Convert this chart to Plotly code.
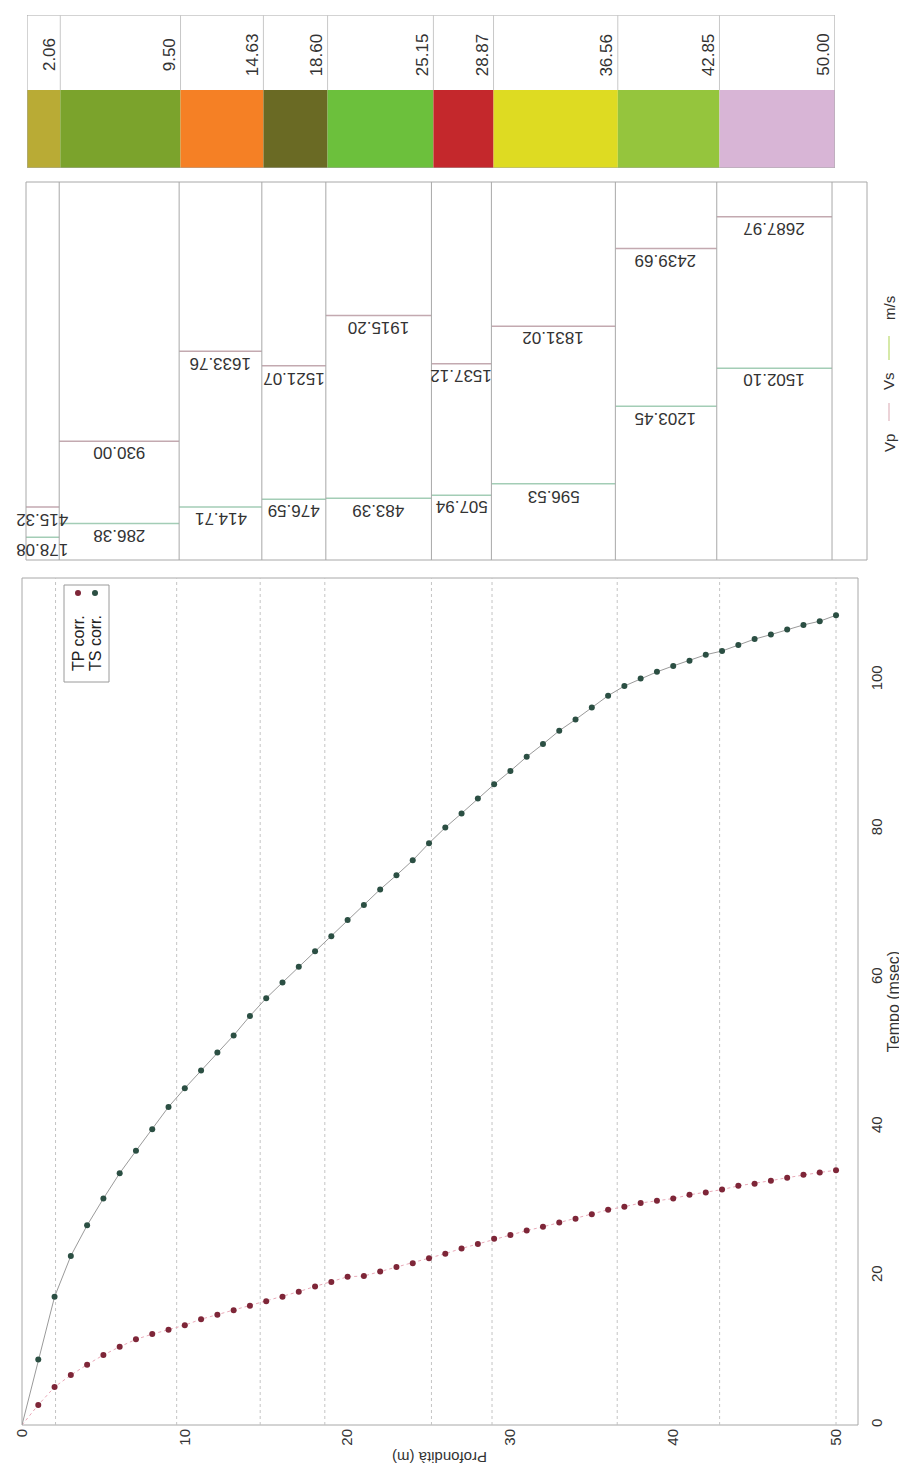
import plotly.graph_objects as go

# page is 907x1472; the html body adds an 8px margin, so the figure is 899x1464 at (8, 8)
PAGE_OFF = 8
W, H = 899, 1464

# ---------------- data ----------------
layer_bottom = [2.06, 9.50, 14.63, 18.60, 25.15, 28.87, 36.56, 42.85, 50.00]
layer_labels = ["2.06", "9.50", "14.63", "18.60", "25.15", "28.87", "36.56", "42.85", "50.00"]
layer_colors = ["#b9ab35", "#7ba32c", "#f58025", "#6a6a24", "#6cc03c",
                "#c4282c", "#dedb22", "#95c53d", "#d8b5d6"]
vp = [415.32, 930.00, 1633.76, 1521.07, 1915.20, 1537.12, 1831.02, 2439.69, 2687.97]
vs = [178.08, 286.38, 414.71, 476.59, 483.39, 507.94, 596.53, 1203.45, 1502.10]

depth = list(range(1, 51))
tp = [2.7, 5.1, 6.7, 8.1, 9.4, 10.5, 11.5, 12.2, 12.8, 13.4,
      14.2, 14.8, 15.4, 16.0, 16.6, 17.2, 17.9, 18.6, 19.2, 19.9,
      20.0, 20.6, 21.2, 21.7, 22.4, 23.0, 23.7, 24.3, 25.0, 25.5,
      26.1, 26.6, 27.2, 27.7, 28.3, 28.9, 29.3, 29.8, 30.1, 30.4,
      30.9, 31.2, 31.6, 32.1, 32.4, 32.8, 33.2, 33.6, 33.9, 34.2]
ts = [8.8, 17.2, 22.7, 26.8, 30.4, 33.8, 36.8, 39.7, 42.7, 45.2,
      47.6, 50.0, 52.3, 54.9, 57.3, 59.4, 61.5, 63.6, 65.6, 67.8,
      69.8, 71.9, 73.8, 75.8, 78.1, 80.2, 82.1, 84.1, 86.0, 87.8,
      89.7, 91.4, 93.2, 94.7, 96.3, 97.9, 99.2, 100.2, 101.1, 101.9,
      102.6, 103.4, 103.9, 104.7, 105.5, 106.1, 106.8, 107.4, 107.9, 108.7]

depth_ticks = [0, 10, 20, 30, 40, 50]
time_ticks = [0, 20, 40, 60, 80, 100]

# ---------------- style ----------------
FONT = "Liberation Sans, Arial, sans-serif"
TXT = "#333333"
FRAME = "#a8a8a8"
GRID = "#c4c4c4"
VP_COL = "#c3a9b0"
VS_COL = "#a3cdb6"
TP_COL = "#7e2638"
TS_COL = "#2b4f43"


def px(xp):
    return (xp - PAGE_OFF) / W


def py(yp):
    return 1 - (yp - PAGE_OFF) / H


fig = go.Figure()

# ---------- time-depth scatter (bottom panel) ----------
fig.add_trace(go.Scatter(x=[0] + depth, y=[0] + tp, mode="lines",
                         line=dict(color="#e9a9b8", width=1, dash="dot"),
                         xaxis="x", yaxis="y", hoverinfo="skip"))
fig.add_trace(go.Scatter(x=[0] + depth, y=[0] + ts, mode="lines",
                         line=dict(color="#9a9a9a", width=1),
                         xaxis="x", yaxis="y", hoverinfo="skip"))
fig.add_trace(go.Scatter(x=depth, y=tp, mode="markers", name="TP corr.",
                         marker=dict(color=TP_COL, size=6), xaxis="x", yaxis="y"))
fig.add_trace(go.Scatter(x=depth, y=ts, mode="markers", name="TS corr.",
                         marker=dict(color=TS_COL, size=6), xaxis="x", yaxis="y"))

# ---------- velocity panel (middle) ----------
tops = [0] + layer_bottom[:-1]
vpx, vpy, vsx, vsy = [], [], [], []
for t, b, p, s in zip(tops, layer_bottom, vp, vs):
    vpx += [t, b, None]
    vpy += [p, p, None]
    vsx += [t, b, None]
    vsy += [s, s, None]
fig.add_trace(go.Scatter(x=vpx, y=vpy, mode="lines", line=dict(color=VP_COL, width=1.5),
                         xaxis="x2", yaxis="y2", hoverinfo="skip"))
fig.add_trace(go.Scatter(x=vsx, y=vsy, mode="lines", line=dict(color=VS_COL, width=1.5),
                         xaxis="x2", yaxis="y2", hoverinfo="skip"))

shapes = []
annotations = []

# velocity labels (upside down, below each line)
for t, b, p, s in zip(tops, layer_bottom, vp, vs):
    for v in (p, s):
        annotations.append(dict(x=(t + b) / 2, y=v, xref="x2", yref="y2",
                                text=f"{v:.2f}", showarrow=False, textangle=180,
                                xanchor="center", yanchor="middle", yshift=-12,
                                font=dict(family=FONT, size=17, color=TXT)))

# velocity panel frame and layer boundaries
shapes.append(dict(type="rect", xref="x2 domain", yref="y2 domain", x0=0, x1=1, y0=0, y1=1,
                   line=dict(color=FRAME, width=1)))
for b in layer_bottom:
    shapes.append(dict(type="line", xref="x2", yref="y2 domain", x0=b, x1=b, y0=0, y1=1,
                       line=dict(color=FRAME, width=1)))

# Vp / Vs legend at right of velocity panel
for txt, ypix in (("Vp", 443), ("Vs", 381), ("m/s", 308)):
    annotations.append(dict(x=px(889), y=py(ypix), xref="paper", yref="paper", text=txt,
                            showarrow=False, textangle=-90, xanchor="center", yanchor="middle",
                            font=dict(family=FONT, size=15, color=TXT)))
shapes.append(dict(type="line", xref="paper", yref="paper", x0=px(889), x1=px(889),
                   y0=py(421), y1=py(403), line=dict(color="#ecd3d8", width=2)))
shapes.append(dict(type="line", xref="paper", yref="paper", x0=px(889), x1=px(889),
                   y0=py(360), y1=py(336), line=dict(color="#d6e9a8", width=2)))

# ---------- layer strip (top) ----------
for t, b, c in zip(tops, layer_bottom, layer_colors):
    shapes.append(dict(type="rect", xref="x3", yref="y3", x0=t, x1=b, y0=0, y1=0.51,
                       fillcolor=c, line=dict(width=0)))
shapes.append(dict(type="rect", xref="x3", yref="y3", x0=0, x1=50, y0=0, y1=1,
                   line=dict(color=FRAME, width=1)))
for b, lab in zip(layer_bottom, layer_labels):
    shapes.append(dict(type="line", xref="x3", yref="y3", x0=b, x1=b, y0=0.51, y1=1,
                       line=dict(color="#c8c8c8", width=1)))
    annotations.append(dict(x=b, y=0.74, xref="x3", yref="y3", text=lab, showarrow=False,
                            textangle=-90, xanchor="center", yanchor="middle", xshift=-11,
                            font=dict(family=FONT, size=17, color=TXT)))

# ---------- scatter panel frame, grid, legend ----------
shapes.append(dict(type="rect", xref="x domain", yref="y domain", x0=0, x1=1, y0=0, y1=1,
                   line=dict(color=FRAME, width=1), layer="below"))
for b in layer_bottom:
    shapes.append(dict(type="line", xref="x", yref="y domain", x0=b, x1=b, y0=0, y1=1,
                       line=dict(color=GRID, width=1, dash="dot"), layer="below"))

# manual rotated legend
shapes.append(dict(type="rect", xref="paper", yref="paper", x0=px(64), x1=px(109),
                   y0=py(682), y1=py(585), line=dict(color="#9a9a9a", width=1),
                   fillcolor="white"))
for name, xpix, col in (("TP corr.", 78, TP_COL), ("TS corr.", 95, TS_COL)):
    annotations.append(dict(x=px(xpix), y=py(643), xref="paper", yref="paper", text=name,
                            showarrow=False, textangle=-90, xanchor="center", yanchor="middle",
                            font=dict(family=FONT, size=16, color="#222")))
    shapes.append(dict(type="circle", xref="paper", yref="paper",
                       x0=px(xpix - 3), x1=px(xpix + 3), y0=py(596), y1=py(590),
                       fillcolor=col, line=dict(width=0)))

# depth axis title (upside down)
annotations.append(dict(x=px(440), y=py(1458), xref="paper", yref="paper",
                        text="Profondità (m)", showarrow=False, textangle=180,
                        xanchor="center", yanchor="middle",
                        font=dict(family=FONT, size=15, color=TXT)))

fig.update_layout(
    width=W, height=H, autosize=False, paper_bgcolor="white", plot_bgcolor="rgba(0,0,0,0)",
    margin=dict(l=0, r=0, t=0, b=0, pad=0, autoexpand=False), showlegend=False,
    shapes=shapes, annotations=annotations,
    xaxis=dict(domain=[px(22), px(858)], range=[0, 51.35], tickvals=depth_ticks,
               tickangle=-90, showgrid=False, zeroline=False, showline=False, automargin=False,
               ticks="", tickfont=dict(family=FONT, size=15, color=TXT), anchor="y"),
    yaxis=dict(domain=[py(1425), py(578)], range=[0, 113.7], tickvals=time_ticks,
               side="right", tickangle=-90, showgrid=False, zeroline=False, showline=False,
               automargin=False,
               ticks="", ticklabelstandoff=8, tickfont=dict(family=FONT, size=15, color=TXT),
               title=dict(text="Tempo (msec)", standoff=1,
                          font=dict(family=FONT, size=16, color=TXT)), anchor="x"),
    xaxis2=dict(domain=[px(26), px(867)], range=[0, 52.17], visible=False, anchor="y2"),
    yaxis2=dict(domain=[py(560), py(182)], range=[0, 2960], visible=False, anchor="x2"),
    xaxis3=dict(domain=[px(27), px(835)], range=[0, 50], visible=False, anchor="y3"),
    yaxis3=dict(domain=[py(168), py(15)], range=[0, 1], visible=False, anchor="x3"),
)

fig.write_html("out.html")
